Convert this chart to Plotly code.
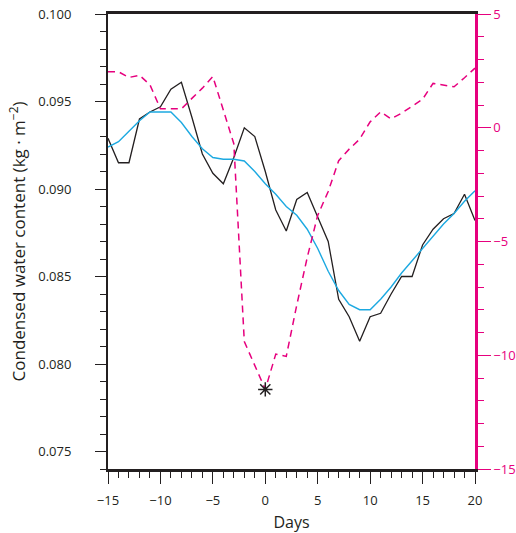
import plotly.graph_objects as go

days = list(range(-15, 21))

black_values = [0.0929, 0.0915, 0.0915, 0.0940, 0.0944, 0.0947, 0.0957, 0.0961,
                0.0941, 0.0920, 0.0909, 0.0903, 0.0918, 0.0935, 0.0930, 0.0910,
                0.0888, 0.0876, 0.0894, 0.0898, 0.0884, 0.0870, 0.0837, 0.0827,
                0.0813, 0.0827, 0.0829, 0.0840, 0.0850, 0.0850, 0.0868, 0.0877,
                0.0883, 0.0886, 0.0897, 0.0882]

blue_values = [0.0924, 0.0927, 0.0933, 0.0939, 0.0944, 0.0944, 0.0944, 0.0938,
               0.0930, 0.0923, 0.0918, 0.0917, 0.0917, 0.0916, 0.0910, 0.0903,
               0.0897, 0.0890, 0.0885, 0.0877, 0.0866, 0.0853, 0.0842, 0.0834,
               0.0831, 0.0831, 0.0837, 0.0844, 0.0852, 0.0859, 0.0866, 0.0873,
               0.0880, 0.0886, 0.0893, 0.0899]

magenta_values = [2.46, 2.46, 2.21, 2.31, 1.89, 0.83, 0.83, 0.83,
                  1.29, 1.74, 2.25, 0.80, -0.70, -9.40, -10.45, -11.50,
                  -9.95, -10.05, -7.80, -5.70, -3.85, -2.80, -1.45, -0.94,
                  -0.50, 0.26, 0.70, 0.39, 0.64, 0.93, 1.25, 1.95,
                  1.88, 1.80, 2.20, 2.62]

star_day = [0]
star_value = [-11.5]

left_ticks = [0.075, 0.080, 0.085, 0.090, 0.095, 0.100]
right_ticks = [-15, -10, -5, 0, 5]
x_ticks = [-15, -10, -5, 0, 5, 10, 15, 20]

INK = "#231F20"
PINK = "#E6007E"
BLUE = "#1CA9E1"
FONT = "Open Sans"

fig = go.Figure()
fig.add_trace(go.Scatter(x=days, y=black_values, mode="lines",
                         line=dict(color=INK, width=1.3), showlegend=False))
fig.add_trace(go.Scatter(x=days, y=blue_values, mode="lines",
                         line=dict(color=BLUE, width=1.4), showlegend=False))
fig.add_trace(go.Scatter(x=days, y=magenta_values, mode="lines", yaxis="y2",
                         line=dict(color=PINK, width=1.5, dash="7px,5px"),
                         showlegend=False))
fig.add_trace(go.Scatter(x=star_day, y=star_value, mode="markers", yaxis="y2",
                         marker=dict(symbol="asterisk-open", size=12, color=INK,
                                     line=dict(color=INK, width=1.5)),
                         showlegend=False))

fig.update_layout(
    width=516, height=533,
    margin=dict(l=108, r=41, t=14, b=64),
    paper_bgcolor="white", plot_bgcolor="white",
    font=dict(family=FONT, size=13, color=INK),
    xaxis=dict(range=[-15, 20], tickvals=x_ticks, showgrid=False, zeroline=False,
               automargin=False,
               showline=True, linecolor=INK, linewidth=2.5, mirror=True,
               ticks="outside", ticklen=12, tickwidth=1.2, tickcolor=INK,
               ticklabelstandoff=6,
               minor=dict(dtick=1, ticks="outside", ticklen=6, tickwidth=1, tickcolor=INK),
               title=dict(text="Days", font=dict(size=16), standoff=13),
               tickfont=dict(size=13)),
    yaxis=dict(range=[0.074, 0.100], tickvals=left_ticks, tickformat=".3f",
               showgrid=False, zeroline=False, automargin=False,
               showline=True, linecolor=INK, linewidth=2,
               ticks="outside", ticklen=11, tickwidth=1.2, tickcolor=INK,
               ticklabelstandoff=21, ticklabeloverflow="allow",
               minor=dict(dtick=0.001, ticks="outside", ticklen=6, tickwidth=1, tickcolor=INK),
               title=dict(text="Condensed water content (kg · m<sup>−2</sup>)",
                          font=dict(size=17), standoff=8),
               tickfont=dict(size=13)),
    yaxis2=dict(range=[-15, 5], tickvals=right_ticks, overlaying="y", side="right",
                showgrid=False, zeroline=False, automargin=False,
                showline=True, linecolor=PINK, linewidth=2.5,
                ticks="outside", ticklen=13, tickwidth=1.2, tickcolor=PINK,
                ticklabeloverflow="allow",
                minor=dict(dtick=1, ticks="outside", ticklen=6, tickwidth=1, tickcolor=PINK),
                tickfont=dict(size=13, color=PINK)),
)

# remove the browser's default 8px body margin so the 516x533 figure fills the window
fig.write_html("out.html", config={"displayModeBar": False},
               post_script="document.body.style.margin='0';")
